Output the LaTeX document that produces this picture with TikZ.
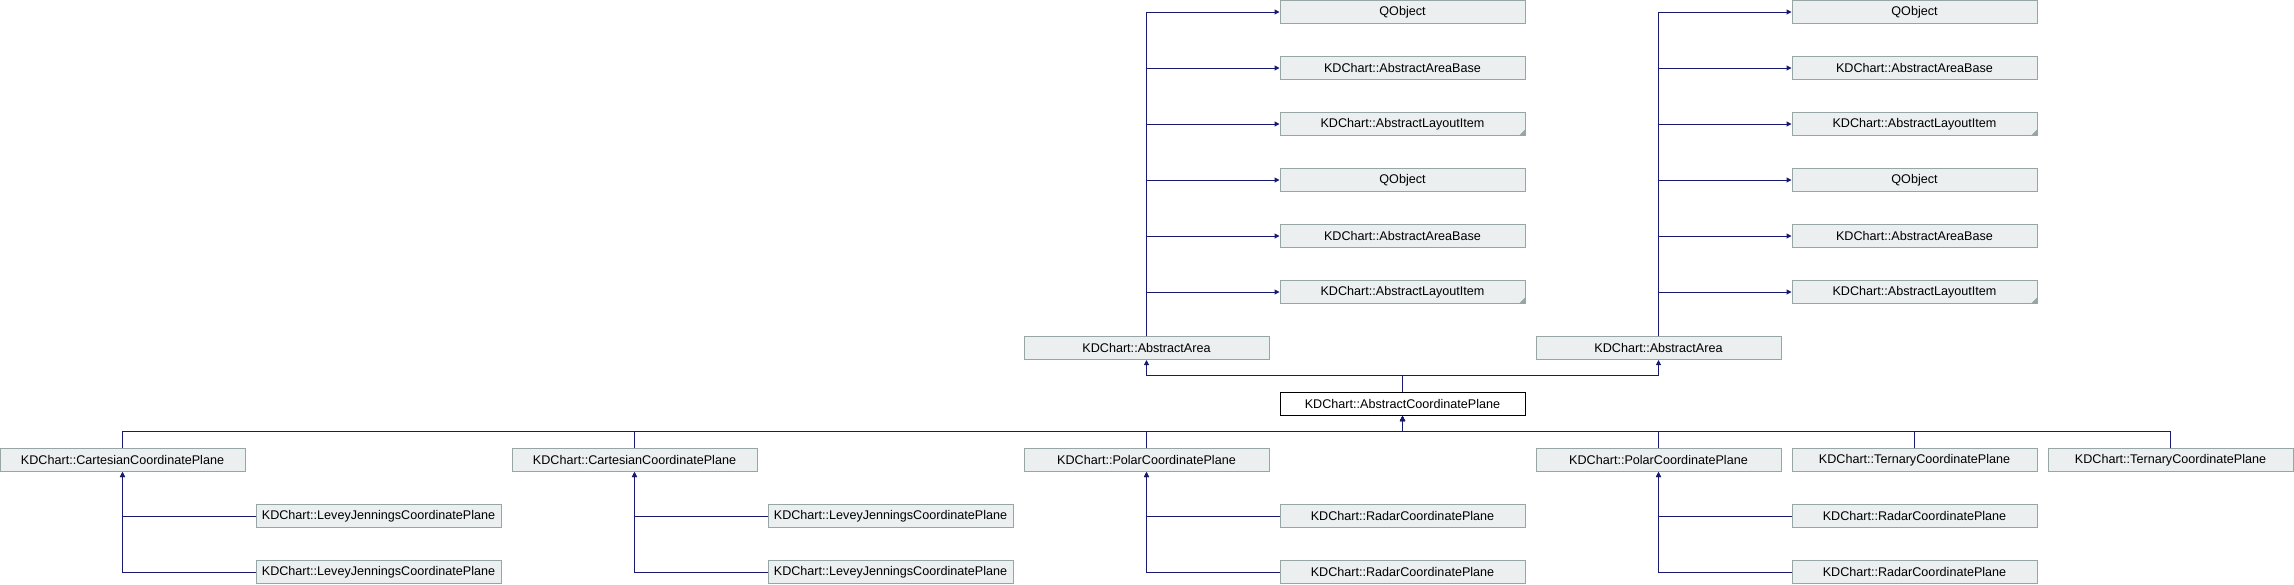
\documentclass[tikz,border=0pt]{standalone}
\usepackage{fontspec}
\setmainfont{Liberation Sans}
\usetikzlibrary{arrows.meta, positioning, calc}
\definecolor{edgeblue}{RGB}{25,25,112}
\definecolor{boxfill}{RGB}{235,239,240}
\definecolor{boxline}{RGB}{150,165,165}

\begin{document}
\begin{tikzpicture}[x=1pt, y=-1pt,
        cls/.style={rectangle, draw=boxline, fill=boxfill, line width=1pt, minimum width=245pt, minimum height=23pt, inner sep=0pt, font=\fontsize{12.6}{14}\selectfont},
        focus/.style={cls, draw=black, fill=white},
        trunc/.style={path picture={\fill[boxline] (path picture bounding box.south east) -- ++(-6pt,0pt) -- ++(6pt,6pt) -- cycle;}},
        edge/.style={draw=edgeblue, line width=1pt, -{Triangle[length=5pt, width=5pt]}}]

      \useasboundingbox (0,0) rectangle (2294,584);

      % 1. Base classes (top two columns)
      \node [cls] (lqo1) at (1402.5, 12) {QObject};
      \node [cls] (laab1) at (1402.5, 68) {KDChart::AbstractAreaBase};
      \node [cls, trunc] (lali1) at (1402.5, 124) {KDChart::AbstractLayoutItem};
      \node [cls] (lqo2) at (1402.5, 180) {QObject};
      \node [cls] (laab2) at (1402.5, 236) {KDChart::AbstractAreaBase};
      \node [cls, trunc] (lali2) at (1402.5, 292) {KDChart::AbstractLayoutItem};

      \node [cls] (rqo1) at (1914.5, 12) {QObject};
      \node [cls] (raab1) at (1914.5, 68) {KDChart::AbstractAreaBase};
      \node [cls, trunc] (rali1) at (1914.5, 124) {KDChart::AbstractLayoutItem};
      \node [cls] (rqo2) at (1914.5, 180) {QObject};
      \node [cls] (raab2) at (1914.5, 236) {KDChart::AbstractAreaBase};
      \node [cls, trunc] (rali2) at (1914.5, 292) {KDChart::AbstractLayoutItem};

      % 2. Abstract area and coordinate plane
      \node [cls] (areaL) at (1146.5, 348) {KDChart::AbstractArea};
      \node [cls] (areaR) at (1658.5, 348) {KDChart::AbstractArea};
      \node [focus] (acp) at (1402.5, 404) {KDChart::AbstractCoordinatePlane};

      % 3. Derived planes
      \node [cls] (cart1) at (122.5, 460) {KDChart::CartesianCoordinatePlane};
      \node [cls] (cart2) at (634.5, 460) {KDChart::CartesianCoordinatePlane};
      \node [cls] (polar1) at (1146.5, 460) {KDChart::PolarCoordinatePlane};
      \node [cls] (polar2) at (1658.5, 460) {KDChart::PolarCoordinatePlane};
      \node [cls] (tern1) at (1914.5, 460) {KDChart::TernaryCoordinatePlane};
      \node [cls] (tern2) at (2170.5, 460) {KDChart::TernaryCoordinatePlane};

      \node [cls] (lj1a) at (378.5, 516) {KDChart::LeveyJenningsCoordinatePlane};
      \node [cls] (lj1b) at (378.5, 572) {KDChart::LeveyJenningsCoordinatePlane};
      \node [cls] (lj2a) at (890.5, 516) {KDChart::LeveyJenningsCoordinatePlane};
      \node [cls] (lj2b) at (890.5, 572) {KDChart::LeveyJenningsCoordinatePlane};
      \node [cls] (radar1a) at (1402.5, 516) {KDChart::RadarCoordinatePlane};
      \node [cls] (radar1b) at (1402.5, 572) {KDChart::RadarCoordinatePlane};
      \node [cls] (radar2a) at (1914.5, 516) {KDChart::RadarCoordinatePlane};
      \node [cls] (radar2b) at (1914.5, 572) {KDChart::RadarCoordinatePlane};

      % 4. Inheritance edges
      \draw [edge] (areaL.north) |- (lqo1.west);
      \draw [edge] (areaL.north) |- (laab1.west);
      \draw [edge] (areaL.north) |- (lali1.west);
      \draw [edge] (areaL.north) |- (lqo2.west);
      \draw [edge] (areaL.north) |- (laab2.west);
      \draw [edge] (areaL.north) |- (lali2.west);

      \draw [edge] (areaR.north) |- (rqo1.west);
      \draw [edge] (areaR.north) |- (raab1.west);
      \draw [edge] (areaR.north) |- (rali1.west);
      \draw [edge] (areaR.north) |- (rqo2.west);
      \draw [edge] (areaR.north) |- (raab2.west);
      \draw [edge] (areaR.north) |- (rali2.west);

      \draw [edge] (acp.north) -- ++(0,-16.5) -| (areaL.south);
      \draw [edge] (acp.north) -- ++(0,-16.5) -| (areaR.south);

      \draw [edge] (cart1.north) -- ++(0,-16.5) -| (acp.south);
      \draw [edge] (cart2.north) -- ++(0,-16.5) -| (acp.south);
      \draw [edge] (polar1.north) -- ++(0,-16.5) -| (acp.south);
      \draw [edge] (polar2.north) -- ++(0,-16.5) -| (acp.south);
      \draw [edge] (tern1.north) -- ++(0,-16.5) -| (acp.south);
      \draw [edge] (tern2.north) -- ++(0,-16.5) -| (acp.south);

      \draw [edge] (lj1a.west) -| (cart1.south);
      \draw [edge] (lj1b.west) -| (cart1.south);
      \draw [edge] (lj2a.west) -| (cart2.south);
      \draw [edge] (lj2b.west) -| (cart2.south);
      \draw [edge] (radar1a.west) -| (polar1.south);
      \draw [edge] (radar1b.west) -| (polar1.south);
      \draw [edge] (radar2a.west) -| (polar2.south);
      \draw [edge] (radar2b.west) -| (polar2.south);
    \end{tikzpicture}
\end{document}
